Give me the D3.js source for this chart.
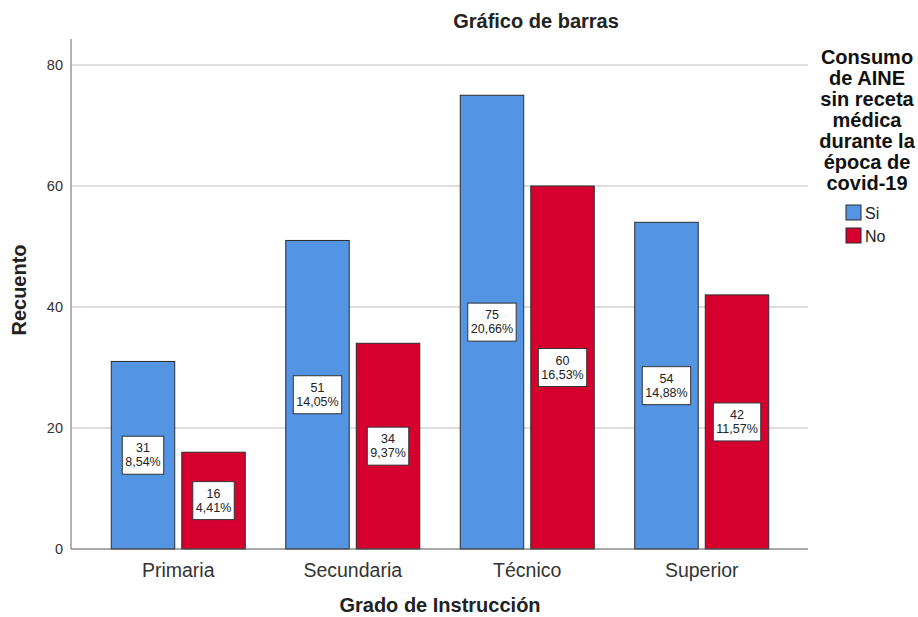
<!DOCTYPE html>
<html><head><meta charset="utf-8">
<script src="https://cdn.jsdelivr.net/npm/d3@7"></script>
<style>body{margin:0;background:#fff}svg{display:block;font-family:"Liberation Sans",Arial,sans-serif}</style>
</head><body><svg id="c" width="918" height="617"></svg>
<script>
const categories = ["Primaria","Secundaria","Técnico","Superior"];
const series = ["Si","No"];
const valuesSi = [31,51,75,54];
const valuesNo = [16,34,60,42];
const pctSi = ["8,54%","14,05%","20,66%","14,88%"];
const pctNo = ["4,41%","9,37%","16,53%","11,57%"];
const yTicks = [0,20,40,60,80];
const legendTitle = ["Consumo","de AINE","sin receta","médica","durante la","época de","covid-19"];
const colors = {Si:"#5394e3", No:"#d5002e"};

(function(){
const svg = d3.select("#c");
const pL=71, pR=808, pB=549, pT=39;
const x = d3.scaleBand().domain(categories).range([91,789]).paddingInner(0).paddingOuter(0);
const xs = d3.scaleBand().domain(series).range([0,x.bandwidth()]).paddingInner(0.1).paddingOuter(0.287);
const y = d3.scaleLinear().domain([0,84.3]).range([pB,pT]);

// gridlines
svg.append("g").selectAll("line").data(yTicks.filter(d=>d>0)).join("line")
  .attr("x1",pL).attr("x2",pR).attr("y1",d=>y(d)).attr("y2",d=>y(d))
  .attr("stroke","#d3d3d3").attr("stroke-width",1.5);

// y axis
const ya = svg.append("g").attr("transform",`translate(${pL},0)`)
  .call(d3.axisLeft(y).tickValues(yTicks).tickSize(0).tickPadding(8));
ya.select(".domain").remove();
ya.selectAll("text").attr("font-size",14.5).attr("fill","#333").attr("font-family","Liberation Sans, Arial");
svg.append("line").attr("x1",pL).attr("x2",pL).attr("y1",pT).attr("y2",pB).attr("stroke","#999").attr("stroke-width",1.5);

const data = [];
categories.forEach((c,i)=>{
  data.push({c, s:"Si", v:valuesSi[i], p:pctSi[i]});
  data.push({c, s:"No", v:valuesNo[i], p:pctNo[i]});
});

svg.append("g").selectAll("rect").data(data).join("rect")
  .attr("x",d=>x(d.c)+xs(d.s)).attr("width",xs.bandwidth())
  .attr("y",d=>y(d.v)).attr("height",d=>pB-y(d.v))
  .attr("fill",d=>colors[d.s]).attr("stroke","#2b2b2b").attr("stroke-width",1);

// x axis line
svg.append("line").attr("x1",pL).attr("x2",pR).attr("y1",pB).attr("y2",pB).attr("stroke","#555").attr("stroke-width",1.2);
const xa = svg.append("g").attr("transform",`translate(0,${pB})`)
  .call(d3.axisBottom(x).tickSize(0));
xa.select(".domain").remove();
xa.selectAll("text").attr("y",28).attr("dy",0).attr("font-size",19.5).attr("fill","#333").attr("font-family","Liberation Sans, Arial");

// labels
const lg = svg.append("g").selectAll("g").data(data).join("g")
  .attr("transform",d=>`translate(${x(d.c)+xs(d.s)+xs.bandwidth()/2},${(y(d.v)+pB)/2})`);
lg.append("rect").attr("y",-19).attr("height",38).attr("fill","#fff").attr("stroke","#333").attr("stroke-width",1);
lg.append("text").attr("text-anchor","middle").attr("y",-3).attr("font-size",12.5).attr("fill","#222").text(d=>d.v);
const t2 = lg.append("text").attr("text-anchor","middle").attr("y",11).attr("font-size",12.5).attr("fill","#222").text(d=>d.p);
t2.each(function(){
  const w = this.getBBox().width + 6;
  d3.select(this.parentNode).select("rect").attr("x",-w/2).attr("width",w);
});

// titles
svg.append("text").attr("x",536).attr("y",28).attr("text-anchor","middle").attr("font-size",20).attr("font-weight","bold").attr("fill","#222").text("Gráfico de barras");
svg.append("text").attr("x",440).attr("y",612).attr("text-anchor","middle").attr("font-size",20).attr("font-weight","bold").attr("fill","#222").text("Grado de Instrucción");
svg.append("text").attr("transform","translate(26,290) rotate(-90)").attr("text-anchor","middle").attr("font-size",20).attr("font-weight","bold").attr("fill","#222").text("Recuento");

// legend
svg.append("g").selectAll("text").data(legendTitle).join("text")
  .attr("x",867).attr("y",(d,i)=>64+i*21).attr("text-anchor","middle").attr("font-size",20).attr("font-weight","bold").attr("fill","#111").text(d=>d);
const li = svg.append("g").selectAll("g").data(series).join("g").attr("transform",(d,i)=>`translate(846,${205+i*23})`);
li.append("rect").attr("width",15).attr("height",15).attr("fill",d=>colors[d]).attr("stroke","#2b2b2b");
li.append("text").attr("x",19).attr("y",14).attr("font-size",16).attr("fill","#222").text(d=>d);
})();
</script></body></html>
